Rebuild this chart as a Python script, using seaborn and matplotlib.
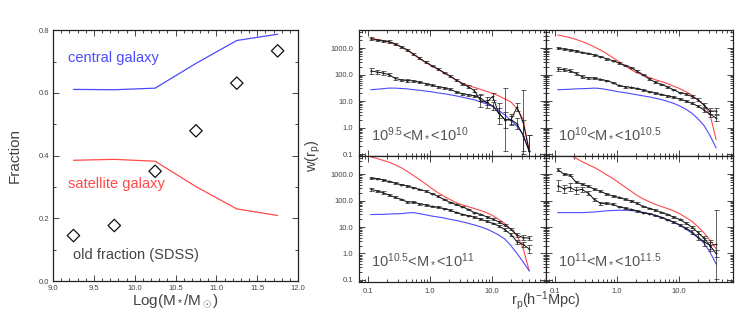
import numpy as np
import seaborn as sns
import matplotlib.pyplot as plt
from matplotlib.ticker import AutoMinorLocator, FixedLocator, LogLocator, NullFormatter

# left panel: fractions vs stellar mass
mass = [9.25, 9.75, 10.25, 10.75, 11.25, 11.75]
frac_central = [0.611, 0.610, 0.615, 0.694, 0.767, 0.787]
frac_satellite = [0.385, 0.388, 0.382, 0.301, 0.230, 0.209]
frac_old = [0.145, 0.177, 0.350, 0.479, 0.631, 0.734]

# right panels: projected correlation functions
rp = [0.11, 0.138, 0.173, 0.217, 0.272, 0.341, 0.428, 0.537, 0.673, 0.845,
      1.06, 1.33, 1.67, 2.09, 2.62, 3.29, 4.12, 5.17, 6.49, 8.14,
      10.2, 12.8, 16.1, 20.1, 25.3, 31.7, 39.8]

labels = [r"$10^{9.5}$<M$_*$<$10^{10}$", r"$10^{10}$<M$_*$<$10^{10.5}$",
          r"$10^{10.5}$<M$_*$<$10^{11}$", r"$10^{11}$<M$_*$<$10^{11.5}$"]

red_1 = [2400, 2140, 1950, 1700, 1380, 1120, 830, 575, 400, 290, 214, 158, 117, 85,
         63, 48, 39, 33, 28, 23.4, 19.5, 15.8, 12.0, 9.3, 5.2, 2.1, 0.126]
blue_1 = [27, 28, 29.5, 31, 31, 30, 29, 27, 25.7, 24, 22.4, 20.4, 19, 17.4,
          15.8, 14.1, 12.6, 11.2, 9.3, 7.9, 6.3, 4.5, 3.0, 1.9, 1.12, 0.56, 0.126]
hi_1 = [2290, 2040, 1860, 1780, 1480, 1120, 870, 600, 417, 295, 219, 166, 120, 89,
        63, 46, 35, 25, 10.5, 8.9, 15, 3.5, 2.0, 1.9, 6.0, 1.6, 0.13]
lo_1 = [138, 126, 115, 100, 72, 63, 60, 58, 52, 46, 40, 35, 32, 28,
        22.4, 19, 17.4, 15.8, 13.2, 8.9, 6.6, 3.5, 2.0, 2.0, 1.4, 0.5, 0.13]
hi_err_1 = [0.05, 0.05, 0.05, 0.05, 0.04, 0.04, 0.04, 0.04, 0.03, 0.03, 0.03, 0.03, 0.03, 0.03,
            0.03, 0.04, 0.05, 0.06, 0.25, 0.2, 0.12, 0.4, 1.2, 0.15, 0.15, 1.2, 0.6]
lo_err_1 = [0.1, 0.08, 0.08, 0.06, 0.06, 0.05, 0.05, 0.04, 0.04, 0.04, 0.03, 0.03, 0.03, 0.03,
            0.03, 0.03, 0.03, 0.04, 0.12, 0.1, 0.15, 0.2, 0.3, 0.2, 0.2, 0.6, 0.6]

red_2 = [3160, 2820, 2510, 2140, 1780, 1450, 1120, 850, 630, 447, 316, 219, 158, 117,
         98, 79, 65, 55, 46, 37, 30, 23, 17, 11.2, 7.2, 3.2, 0.35]
blue_2 = [27, 27.5, 28, 29, 29.5, 30, 31, 30, 27.5, 25, 22.4, 21, 19, 17.4,
          15.8, 14.5, 12.9, 11.5, 9.8, 8.3, 6.6, 5.0, 3.5, 2.2, 1.2, 0.5, 0.17]
hi_2 = [1000, 930, 850, 776, 690, 630, 560, 480, 400, 340, 275, 224, 186, 135,
        100, 69, 52, 43, 35, 27, 21, 18.6, 15, 11.5, 7.1, 4.2, 4.2]
lo_2 = [162, 155, 141, 112, 83, 76, 74, 66, 60, 50, 39, 35, 33, 30,
        26, 23, 20, 17.8, 15.8, 14.1, 12, 10.2, 8.3, 6.5, 4.6, 3.2, 2.3]
hi_err_2 = [0.03] * 22 + [0.04, 0.05, 0.08, 0.1, 0.1]
lo_err_2 = [0.07, 0.07, 0.06, 0.05, 0.05, 0.04, 0.04, 0.03, 0.03, 0.03, 0.03, 0.03, 0.03, 0.03,
            0.03, 0.03, 0.03, 0.03, 0.03, 0.03, 0.03, 0.04, 0.04, 0.05, 0.08, 0.12, 0.12]

red_3 = [4470, 3890, 3310, 2820, 2240, 1740, 1260, 890, 617, 427, 288, 200, 145, 110,
         83, 69, 59, 50, 42, 35, 27, 19.5, 13.5, 8.3, 4.6, 1.6, 0.22]
blue_3 = [29.5, 30, 30, 31, 31.6, 32, 34, 35, 32, 29, 26, 24, 22, 19.5,
          17.8, 15.8, 13.8, 12, 10.2, 8.5, 6.6, 5.0, 3.5, 2.0, 1.0, 0.48, 0.22]
hi_3 = [708, 676, 603, 525, 457, 398, 355, 309, 263, 229, 182, 145, 110, 85,
        71, 59, 46, 35, 30, 24.5, 20, 15.8, 11.7, 8.3, 5.0, 4.0, 3.8]
lo_3 = [269, 229, 200, 162, 132, 110, 89, 87, 76, 68, 60, 56, 50, 43,
        35.5, 30, 27, 23.4, 20, 16.6, 13.8, 11, 7.9, 5.2, 2.8, 2.2, 1.5]
hi_err_3 = [0.03] * 22 + [0.04, 0.05, 0.06, 0.08, 0.08]
lo_err_3 = [0.06, 0.05, 0.05, 0.04, 0.04, 0.03, 0.03, 0.03, 0.03, 0.03, 0.03, 0.03, 0.03, 0.03,
            0.03, 0.03, 0.03, 0.03, 0.03, 0.03, 0.03, 0.04, 0.05, 0.06, 0.08, 0.1, 0.15]

red_4 = [8900, 7080, 5250, 3980, 2950, 2290, 1780, 1320, 955, 692, 479, 331, 229, 158,
         117, 91, 72, 60, 50, 41, 32, 23.4, 16.6, 10.5, 6.0, 3.2, 1.5]
blue_4 = [35, 35, 35, 35, 35, 36, 37, 39, 41, 42, 43, 43, 42, 40,
          36, 32, 27.5, 23.4, 19, 15, 11.7, 8.5, 5.9, 4.0, 2.5, 1.12, 0.4]
hi_4 = [1480, 1000, 912, 500, 417, 347, 269, 224, 178, 151, 132, 112, 98, 79,
        60, 51, 43, 36, 30, 24, 19.5, 14, 10, 6.3, 3.8, 2.0, 1.0]
lo_4 = [363, 282, 316, 240, 263, 190, 112, 79, 78, 72, 59, 52, 46, 40,
        35, 32, 27.5, 23, 19, 15.5, 12.3, 9.1, 6.5, 4.2, 2.8, 2.0, 2.2]
hi_err_4 = [0.05, 0.05, 0.05, 0.04, 0.04, 0.04, 0.03, 0.03, 0.03, 0.03, 0.03, 0.03, 0.03, 0.03,
            0.03, 0.03, 0.03, 0.03, 0.03, 0.03, 0.03, 0.04, 0.05, 0.06, 0.08, 0.12, 0.15]
lo_err_4 = [0.2, 0.15, 0.15, 0.12, 0.1, 0.08, 0.06, 0.05, 0.04, 0.04, 0.03, 0.03, 0.03, 0.03,
            0.03, 0.03, 0.03, 0.03, 0.03, 0.03, 0.04, 0.05, 0.08, 0.12, 0.15, 0.2, 1.3]

panels = [(red_1, blue_1, hi_1, lo_1, hi_err_1, lo_err_1),
          (red_2, blue_2, hi_2, lo_2, hi_err_2, lo_err_2),
          (red_3, blue_3, hi_3, lo_3, hi_err_3, lo_err_3),
          (red_4, blue_4, hi_4, lo_4, hi_err_4, lo_err_4)]

sns.set_theme(style="ticks")
plt.rcParams['font.family'] = ['Liberation Sans', 'DejaVu Sans']
plt.rcParams['mathtext.fontset'] = 'custom'
plt.rcParams['mathtext.rm'] = 'Liberation Sans'
plt.rcParams['mathtext.it'] = 'Liberation Sans'
plt.rcParams['mathtext.default'] = 'rm'
plt.rcParams['xtick.direction'] = 'in'
plt.rcParams['ytick.direction'] = 'in'
plt.rcParams['xtick.top'] = True
plt.rcParams['ytick.right'] = True
plt.rcParams['axes.edgecolor'] = '#222222'
plt.rcParams['axes.linewidth'] = 0.9

RED = '#ff4a4a'
BLUE = '#4a4aff'
INK = '#444444'

fig = plt.figure(figsize=(7.47, 3.14), dpi=100)

# ---- left panel
ax0 = fig.add_axes([0.071, 0.105, 0.328, 0.799])
sns.lineplot(x=mass, y=frac_central, color=BLUE, lw=0.9, ax=ax0)
sns.lineplot(x=mass, y=frac_satellite, color=RED, lw=0.9, ax=ax0)
sns.scatterplot(x=mass, y=frac_old, marker='D', s=40, facecolor='none',
                edgecolor='#111111', linewidth=0.9, ax=ax0)
ax0.set_xlim(9.0, 12.0)
ax0.set_ylim(0.0, 0.8)
ax0.set_xticks([9.0, 9.5, 10.0, 10.5, 11.0, 11.5, 12.0])
ax0.set_xticklabels(['9.0', '9.5', '10.0', '10.5', '11.0', '11.5', '12.0'])
ax0.set_yticks([0.0, 0.2, 0.4, 0.6, 0.8])
ax0.set_yticklabels(['0.0', '0.2', '0.4', '0.6', '0.8'])
ax0.xaxis.set_minor_locator(AutoMinorLocator(5))
ax0.yaxis.set_minor_locator(AutoMinorLocator(2))
ax0.tick_params(which='major', length=4, width=0.7, labelsize=5.5, colors=INK, pad=3)
ax0.tick_params(which='minor', length=2, width=0.6)
ax0.set_xlabel(r"Log(M$_*$/M$_\odot$)", fontsize=11, color=INK, labelpad=0)
ax0.set_ylabel("Fraction", fontsize=11, color=INK, labelpad=12)
ax0.text(9.18, 0.71, "central galaxy", color=BLUE, fontsize=10.5, va='center')
ax0.text(9.18, 0.31, "satellite galaxy", color=RED, fontsize=10.5, va='center')
ax0.text(9.24, 0.083, "old fraction (SDSS)", color=INK, fontsize=10.5, va='center')

# ---- right panels
gs = fig.add_gridspec(2, 2, left=0.4806, right=0.981, bottom=0.102, top=0.904,
                      wspace=0, hspace=0)
for k, (red, blue, hi, lo, hi_err, lo_err) in enumerate(panels):
    ax = fig.add_subplot(gs[k // 2, k % 2])
    ax.set_xscale('log')
    ax.set_yscale('log')
    sns.lineplot(x=rp, y=red, color=RED, lw=0.8, ax=ax)
    sns.lineplot(x=rp, y=blue, color=BLUE, lw=0.8, ax=ax)
    for w, e in ((hi, hi_err), (lo, lo_err)):
        w = np.array(w)
        e = np.array(e)
        yerr = [w * (1 - 10 ** -e), w * (10 ** e - 1)]
        sns.lineplot(x=rp, y=w, color='#111111', lw=0.7, marker='o', markersize=1.4,
                     markeredgewidth=0, ax=ax)
        ax.errorbar(rp, w, yerr=yerr, fmt='none', ecolor='#222222', elinewidth=0.5,
                    capsize=1.8, capthick=0.5)
    ax.set_xlim(0.071, 74)
    ax.set_ylim(0.084, 4800)
    ax.xaxis.set_major_locator(FixedLocator([0.1, 1.0, 10.0]))
    ax.yaxis.set_major_locator(FixedLocator([0.1, 1.0, 10.0, 100.0, 1000.0]))
    ax.xaxis.set_minor_locator(LogLocator(base=10, subs=np.arange(2, 10)))
    ax.yaxis.set_minor_locator(LogLocator(base=10, subs=np.arange(2, 10)))
    ax.xaxis.set_minor_formatter(NullFormatter())
    ax.yaxis.set_minor_formatter(NullFormatter())
    if k // 2 == 1:
        ax.set_xticklabels(['0.1', '1.0', '10.0'])
    else:
        ax.set_xticklabels([])
    if k % 2 == 0:
        ax.set_yticklabels(['0.1', '1.0', '10.0', '100.0', '1000.0'])
    else:
        ax.set_yticklabels([])
    ax.tick_params(which='major', length=4, width=0.7, labelsize=5.5, colors=INK, pad=4)
    ax.tick_params(which='minor', length=2, width=0.6)
    ax.set_xlabel('')
    ax.set_ylabel('')
    ax.text(0.11, 0.36, labels[k], color='#555555', fontsize=10.5, va='baseline')

fig.text(0.731, 0.005, r"r$_p$(h$^{-1}$Mpc)", fontsize=10.5, color=INK, ha='center', va='bottom')
fig.text(0.419, 0.503, r"w(r$_p$)", fontsize=10.5, color=INK, rotation=90,
         ha='center', va='center')

fig.savefig('out.png', dpi=100)
